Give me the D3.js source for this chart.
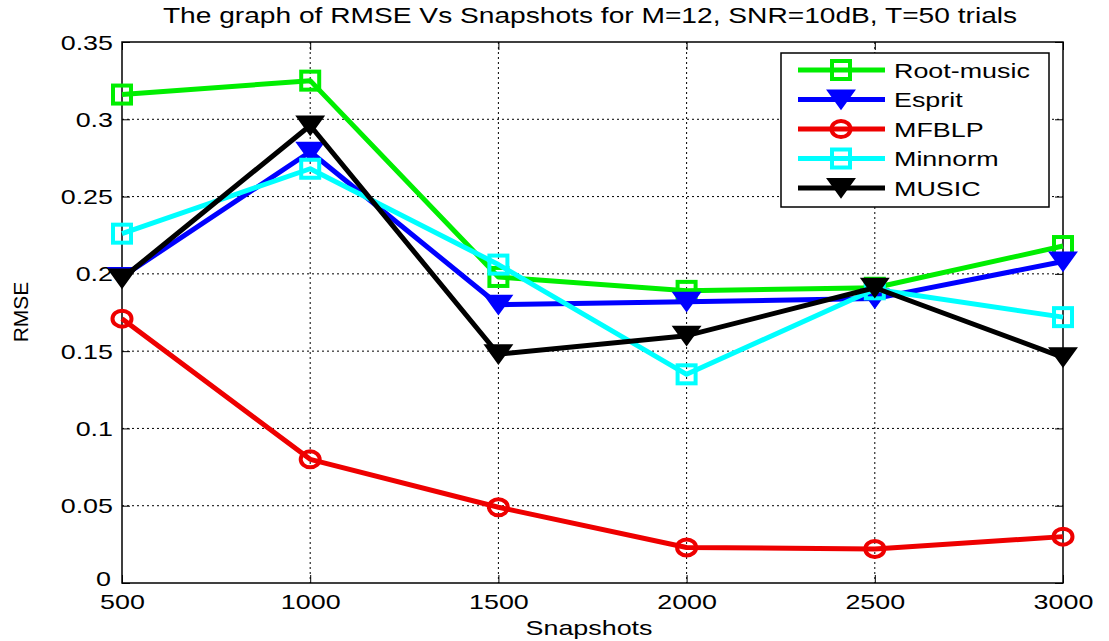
<!DOCTYPE html>
<html>
<head>
<meta charset="utf-8">
<script src="https://cdn.jsdelivr.net/npm/d3@7"></script>
<style>
  body { margin: 0; background: #fff; }
  text { font-family: "Liberation Sans", Arial, sans-serif; fill: #000; }
</style>
</head>
<body>
<div id="chart"></div>
<script>
// DATA
const snapshots = [500, 1000, 1500, 2000, 2500, 3000];
const rootMusic = [0.316, 0.325, 0.198, 0.189, 0.191, 0.218];
const esprit = [0.198, 0.279, 0.180, 0.182, 0.184, 0.208];
const mfblp = [0.171, 0.080, 0.049, 0.023, 0.022, 0.030];
const minnorm = [0.226, 0.268, 0.206, 0.135, 0.190, 0.172];
const music = [0.197, 0.296, 0.148, 0.160, 0.191, 0.146];
const yTicks = [0, 0.05, 0.1, 0.15, 0.2, 0.25, 0.3, 0.35];

const series = [
  { name: "Root-music", values: rootMusic, color: "#00ee00", marker: "square" },
  { name: "Esprit", values: esprit, color: "#0000ff", marker: "triangle" },
  { name: "MFBLP", values: mfblp, color: "#ee0000", marker: "circle" },
  { name: "Minnorm", values: minnorm, color: "#00ffff", marker: "square" },
  { name: "MUSIC", values: music, color: "#000000", marker: "triangle" }
];

const W = 1109, H = 641;
const MARGIN = { LEFT: 122, RIGHT: 46, TOP: 42, BOTTOM: 58 };
const WIDTH = W - MARGIN.LEFT - MARGIN.RIGHT;
const HEIGHT = H - MARGIN.TOP - MARGIN.BOTTOM;
const SX = 1.28; // text in the picture is stretched sideways

const svg = d3.select("#chart").append("svg")
  .attr("width", W).attr("height", H);

const g = svg.append("g")
  .attr("transform", `translate(${MARGIN.LEFT}, ${MARGIN.TOP})`);

const x = d3.scaleLinear().domain([500, 3000]).range([0, WIDTH]);
const y = d3.scaleLinear().domain([0, 0.35]).range([HEIGHT, 0]);

// stretched text helper
function stretchedText(parent, px, py, str, size, anchor) {
  return parent.append("text")
    .attr("transform", `translate(${px}, ${py}) scale(${SX}, 1)`)
    .attr("text-anchor", anchor || "middle")
    .style("font-size", size + "px")
    .text(str);
}

// GRID
g.append("g").selectAll("line").data(snapshots.slice(1, -1)).enter().append("line")
  .attr("x1", d => x(d)).attr("x2", d => x(d))
  .attr("y1", 0).attr("y2", HEIGHT)
  .attr("stroke", "#000").attr("stroke-width", 1).attr("stroke-dasharray", "2,3");
g.append("g").selectAll("line").data(yTicks.slice(1, -1)).enter().append("line")
  .attr("x1", 0).attr("x2", WIDTH)
  .attr("y1", d => y(d)).attr("y2", d => y(d))
  .attr("stroke", "#000").attr("stroke-width", 1).attr("stroke-dasharray", "2,3");

// AXIS
g.append("g")
  .attr("transform", `translate(0, ${HEIGHT})`)
  .call(d3.axisBottom(x).tickValues(snapshots).tickSizeInner(-8).tickSizeOuter(0).tickFormat(d3.format("d")))
  .call(a => a.select(".domain").remove())
  .selectAll("text")
  .attr("y", null).attr("dy", null)
  .attr("transform", `translate(0, 26) scale(${SX}, 1)`)
  .style("font-size", "21px").style("font-family", "Liberation Sans, Arial, sans-serif");
g.append("g")
  .call(d3.axisLeft(y).tickValues(yTicks).tickSizeInner(-8).tickSizeOuter(0).tickFormat(d => d === 0 ? "0" : d3.format("")(+d.toFixed(2))))
  .call(a => a.select(".domain").remove())
  .selectAll("text")
  .attr("x", null).attr("dy", null)
  .attr("transform", d => `translate(${d === 0 ? -11 : -9}, ${d === 0 ? 2 : 7}) scale(${SX}, 1)`)
  .style("font-size", "21px").style("font-family", "Liberation Sans, Arial, sans-serif");
g.append("g").attr("transform", `translate(0, 0)`)
  .call(d3.axisTop(x).tickValues(snapshots).tickSizeInner(-8).tickSizeOuter(0).tickFormat(""))
  .call(a => a.select(".domain").remove());
g.append("g").attr("transform", `translate(${WIDTH}, 0)`)
  .call(d3.axisRight(y).tickValues(yTicks).tickSizeInner(-8).tickSizeOuter(0).tickFormat(""))
  .call(a => a.select(".domain").remove());
g.selectAll(".tick line").attr("stroke", "#000");

g.append("rect")
  .attr("width", WIDTH).attr("height", HEIGHT)
  .attr("fill", "none").attr("stroke", "#000").attr("stroke-width", 1.5);

// LINES
const line = d3.line().x((d, i) => x(snapshots[i])).y(d => y(d));

function drawMarker(sel, type, color) {
  if (type === "square") {
    sel.append("rect").attr("x", -9).attr("y", -9).attr("width", 18).attr("height", 18)
      .attr("fill", "none").attr("stroke", color).attr("stroke-width", 4);
  } else if (type === "circle") {
    sel.append("ellipse").attr("rx", 9.5).attr("ry", 8)
      .attr("fill", "none").attr("stroke", color).attr("stroke-width", 4);
  } else {
    sel.append("path").attr("d", "M-13,-9 L13,-9 L0,9 Z")
      .attr("fill", color).attr("stroke", color).attr("stroke-width", 2);
  }
}

series.forEach(s => {
  g.append("path").datum(s.values)
    .attr("d", line).attr("fill", "none")
    .attr("stroke", s.color).attr("stroke-width", 5).attr("stroke-linejoin", "round");
  g.append("g").selectAll("g").data(s.values).enter().append("g")
    .attr("transform", (d, i) => `translate(${x(snapshots[i])}, ${y(d)})`)
    .each(function () { drawMarker(d3.select(this), s.marker, s.color); });
});

// LEGEND
const legend = svg.append("g").attr("transform", "translate(781, 53)");
legend.append("rect").attr("width", 268).attr("height", 154)
  .attr("fill", "#fff").attr("stroke", "#000").attr("stroke-width", 1.5);
series.forEach((s, i) => {
  const row = legend.append("g").attr("transform", `translate(0, ${17 + i * 29.5})`);
  row.append("line").attr("x1", 17).attr("x2", 104).attr("y1", 0).attr("y2", 0)
    .attr("stroke", s.color).attr("stroke-width", 5);
  const m = row.append("g").attr("transform", "translate(60, 0)");
  drawMarker(m, s.marker, s.color);
  stretchedText(row, 113, 7.5, s.name, 21, "start");
});

// LABELS
stretchedText(svg, 590, 23, "The graph of RMSE Vs Snapshots for M=12, SNR=10dB, T=50 trials", 22);
stretchedText(svg, 589, 635, "Snapshots", 21);
svg.append("text").attr("transform", "translate(28, 312) rotate(-90)").attr("text-anchor", "middle")
  .style("font-size", "21px").text("RMSE");
</script>
</body>
</html>
